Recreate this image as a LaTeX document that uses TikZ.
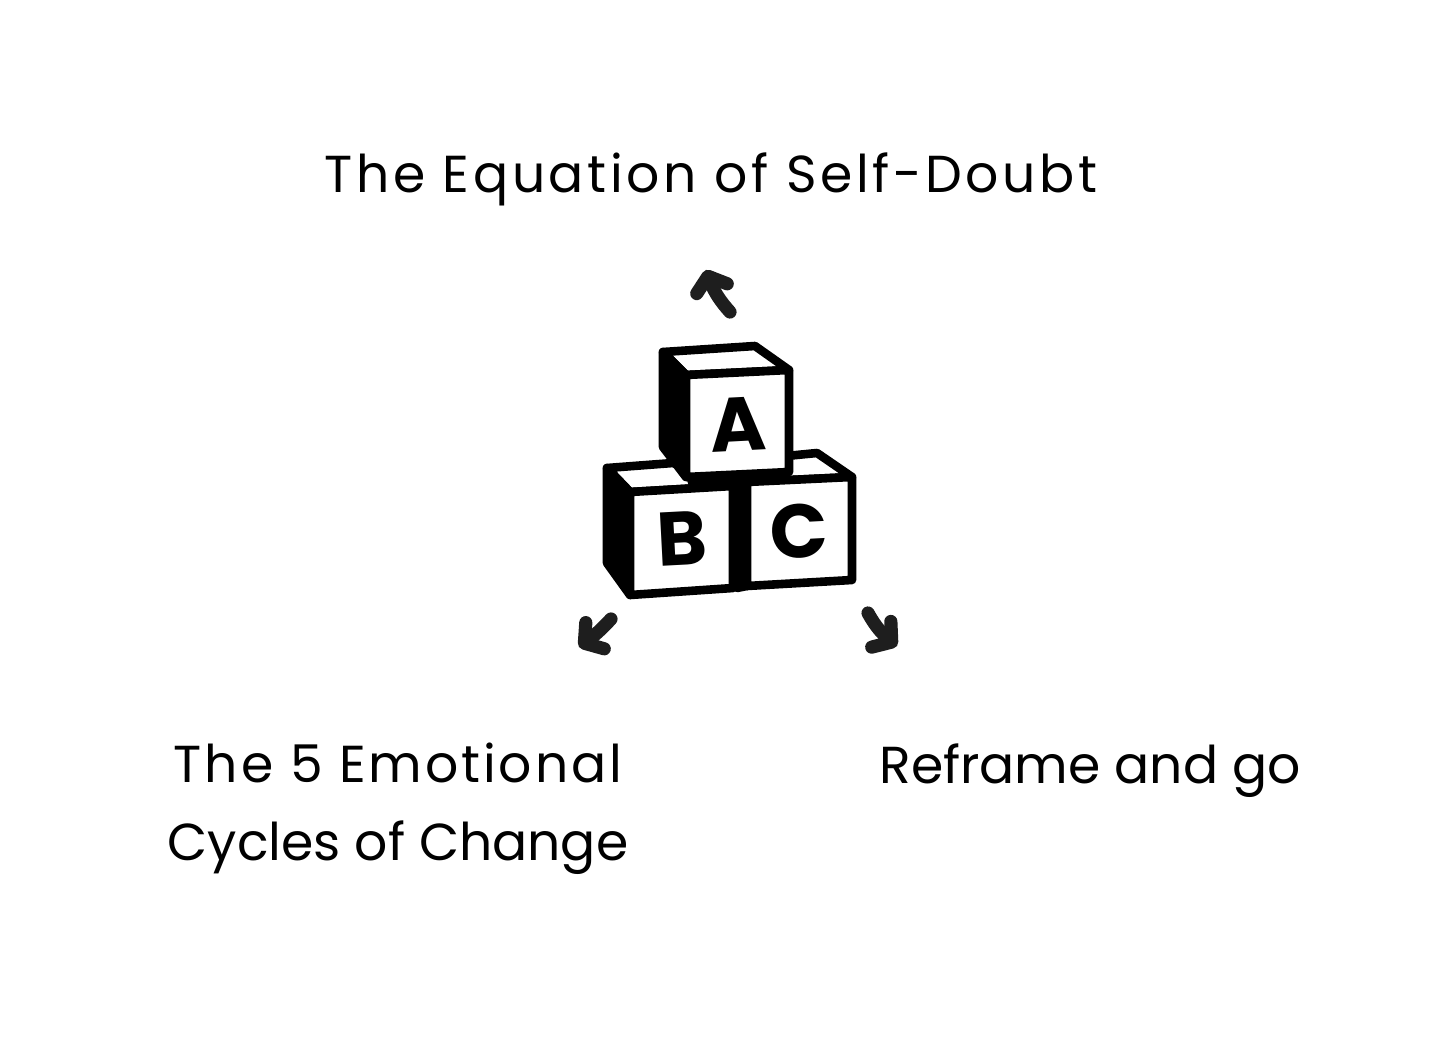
\documentclass[tikz,border=0pt]{standalone}
\usepackage{fontspec}
\setmainfont{Poppins}
\usepackage{tikz}
\usetikzlibrary{arrows.meta,bending}
\definecolor{inkdark}{HTML}{1E1E1E}

\begin{document}
\begin{tikzpicture}[
      x=0.5pt, y=-0.5pt,
      font=\fontsize{26}{39}\selectfont,
      lbl/.style={text=black, align=center, anchor=base, inner sep=0pt},
      letter/.style={font=\fontsize{38}{38}\selectfont\bfseries, rotate=3, inner sep=0pt},
      face/.style={draw=black, fill=white, line width=4.3pt, line join=round},
      side/.style={draw=black, fill=black, line width=4.3pt, line join=round},
      arrow/.style={draw=inkdark, line width=6.6pt, line cap=round, -{Straight Barb[round, length=6.5pt, width=16pt, flex=0.6]}}
    ]
    \useasboundingbox (0,0) rectangle (1456,1048);

    % labels
    \node[lbl] (equation) at (711,193) {\addfontfeature{LetterSpace=7}The Equation of Self-Doubt};
    \node[lbl] (cycles)   at (398,860) {\addfontfeature{LetterSpace=5.5}The 5 Emotional\\Cycles of Change};
    \node[lbl] (reframe)  at (1090,783) {Reframe and go};

    % block C
    \draw[face] (747,482) -- (725,462) -- (817,453) -- (852,477) -- cycle;
    \draw[side] (733,486) -- (747,482) -- (747,586) -- (737,588) -- cycle;
    \draw[face] (747,482) -- (852,477) -- (852,580) -- (747,586) -- cycle;
    \node[letter] (c) at (799,531) {C};

    % block B
    \draw[face] (607,468) -- (673,463) -- (733,486) -- (630,492) -- cycle;
    \draw[side] (607,468) -- (630,492) -- (630,595) -- (607,563) -- cycle;
    \draw[face] (630,492) -- (733,486) -- (733,588) -- (630,595) -- cycle;
    \node[letter] (b) at (682,539) {B};

    % block A
    \fill[black] (686,477) -- (789,472) -- (789,478) -- (747,482) -- (733,487) -- (690,490) -- cycle;
    \draw[face] (663,352) -- (755,346) -- (789,370) -- (686,375) -- cycle;
    \draw[side] (663,352) -- (686,375) -- (686,477) -- (663,447) -- cycle;
    \draw[face] (686,375) -- (789,370) -- (789,472) -- (686,477) -- cycle;
    \node[letter] (a) at (738,424) {A};

    % arrows
    \coordinate (tailA) at (730,312);
    \coordinate (tipA)  at (706,270);
    \coordinate (tailB) at (611,619);
    \coordinate (tipB)  at (579,647);
    \coordinate (tailC) at (868,613);
    \coordinate (tipC)  at (897,646);
    \draw[arrow] (tailA) to[bend left=12] (tipA);
    \draw[arrow] (tailB) to[bend left=6] (tipB);
    \draw[arrow] (tailC) to[bend right=12] (tipC);
  \end{tikzpicture}
\end{document}
